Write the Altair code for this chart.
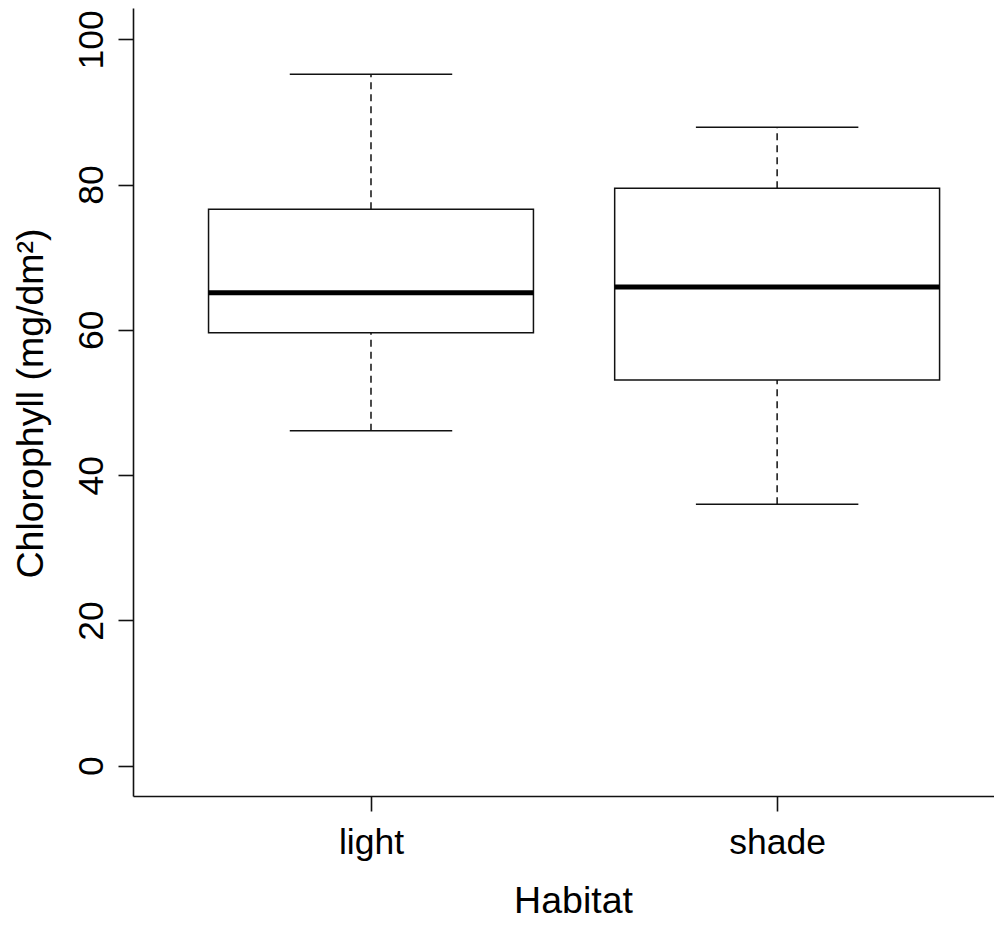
import altair as alt
import pandas as pd

# Data
groups = ["light", "shade"]
positions = [1, 2]
whisker_low = [46.1, 36.0]
q1 = [59.6, 53.1]
median = [65.1, 65.9]
q3 = [76.6, 79.5]
whisker_high = [95.2, 87.9]

y_ticks = [0, 20, 40, 60, 80, 100]

df = pd.DataFrame({
    "group": groups,
    "pos": positions,
    "low": whisker_low,
    "q1": q1,
    "median": median,
    "q3": q3,
    "high": whisker_high,
})

FONT = "Liberation Sans"
FS_LABEL = 35.5
FS_TITLE = 37.5
INK = "#111111"

label_expr = " : ".join(
    [f"datum.value == {p} ? '{g}'" for p, g in zip(positions, groups)]
) + " : ''"

x_scale = alt.Scale(domain=[0.414, 2.534], nice=False, zero=False)
y_scale = alt.Scale(domain=[-4.17, 104.31], nice=False, zero=False)

x_axis = alt.Axis(
    values=positions,
    labelExpr=label_expr,
    title="Habitat",
    grid=False,
    tickSize=15,
    tickWidth=1.6,
    tickColor=INK,
    domainColor=INK,
    domainWidth=1.6,
    labelFont=FONT,
    labelFontSize=FS_LABEL,
    labelColor="black",
    labelPadding=14,
    labelBaseline="top",
    titleFont=FONT,
    titleFontSize=FS_TITLE,
    titleFontWeight="normal",
    titleColor="black",
    titleBaseline="alphabetic",
    titleX=440,
    titleY=116,
)

y_axis = alt.Axis(
    values=y_ticks,
    title="Chlorophyll (mg/dm²)",
    grid=False,
    tickSize=15,
    tickWidth=1.6,
    tickColor=INK,
    domainColor=INK,
    domainWidth=1.6,
    labelFont=FONT,
    labelFontSize=FS_LABEL,
    labelColor="black",
    labelAngle=270,
    labelAlign="center",
    labelBaseline="alphabetic",
    labelPadding=16,
    titleFont=FONT,
    titleFontSize=FS_TITLE,
    titleFontWeight="normal",
    titleColor="black",
    titleAngle=270,
    titleAlign="center",
    titleBaseline="alphabetic",
    titleX=-91,
    titleY=395,
)

base = alt.Chart(df).transform_calculate(
    bl="datum.pos - 0.4",
    br="datum.pos + 0.4",
    sl="datum.pos - 0.2",
    sr="datum.pos + 0.2",
)

# axes carrier (invisible)
axes = base.mark_point(opacity=0).encode(
    x=alt.X("pos:Q", scale=x_scale, axis=x_axis),
    y=alt.Y("median:Q", scale=y_scale, axis=y_axis),
)

upper_whisker = base.mark_rule(color=INK, strokeWidth=1.5, strokeDash=[7, 5]).encode(
    x=alt.X("pos:Q", scale=x_scale),
    y=alt.Y("q3:Q", scale=y_scale),
    y2="high:Q",
)
lower_whisker = base.mark_rule(color=INK, strokeWidth=1.5, strokeDash=[7, 5]).encode(
    x=alt.X("pos:Q", scale=x_scale),
    y=alt.Y("low:Q", scale=y_scale),
    y2="q1:Q",
)
upper_staple = base.mark_rule(color=INK, strokeWidth=1.5).encode(
    x=alt.X("sl:Q", scale=x_scale),
    x2="sr:Q",
    y=alt.Y("high:Q", scale=y_scale),
)
lower_staple = base.mark_rule(color=INK, strokeWidth=1.5).encode(
    x=alt.X("sl:Q", scale=x_scale),
    x2="sr:Q",
    y=alt.Y("low:Q", scale=y_scale),
)
box = base.mark_rect(fill="white", stroke=INK, strokeWidth=1.5).encode(
    x=alt.X("bl:Q", scale=x_scale),
    x2="br:Q",
    y=alt.Y("q1:Q", scale=y_scale),
    y2="q3:Q",
)
med = base.mark_rule(color="black", strokeWidth=5).encode(
    x=alt.X("bl:Q", scale=x_scale),
    x2="br:Q",
    y=alt.Y("median:Q", scale=y_scale),
)

chart = alt.layer(
    axes, upper_whisker, lower_whisker, upper_staple, lower_staple, box, med
).properties(
    width=861,
    height=788,
    autosize=alt.AutoSizeParams(type="none"),
    padding={"left": 125, "top": 0, "right": 0, "bottom": 128},
    background="white",
).configure_view(stroke=None)

chart.save("out.html", embed_options={"renderer": "svg", "actions": False})
